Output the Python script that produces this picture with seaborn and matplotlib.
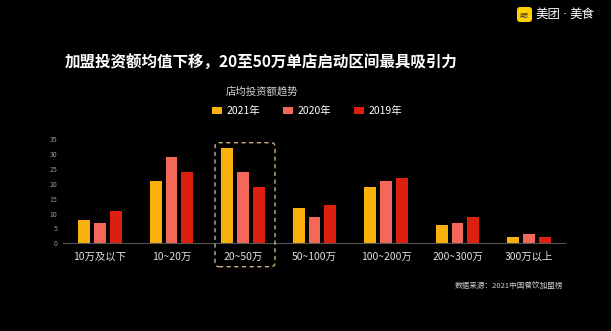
import matplotlib
matplotlib.use("Agg")
import matplotlib.pyplot as plt
import seaborn as sns
import pandas as pd
from matplotlib.patches import FancyBboxPatch, Patch
from matplotlib.transforms import IdentityTransform

categories = ['10万及以下', '10~20万', '20~50万', '50~100万', '100~200万', '200~300万', '300万以上']
years = ['2021年', '2020年', '2019年']
v2021 = [8, 21, 32, 12, 19, 6, 2]
v2020 = [7, 29, 24, 9, 21, 7, 3]
v2019 = [11, 24, 19, 13, 22, 9, 2]
colors = ['#FBB10B', '#F4685A', '#DC1F0E']
yticks = [0, 5, 10, 15, 20, 25, 30, 35]

df = pd.DataFrame({
    'cat': categories * 3,
    'year': [years[0]] * 7 + [years[1]] * 7 + [years[2]] * 7,
    'val': v2021 + v2020 + v2019,
})

sns.set_theme(style='dark')
plt.rcParams['font.family'] = ['Noto Sans CJK SC', 'DejaVu Sans']

W, H = 611, 331
fig = plt.figure(figsize=(W / 100, H / 100), dpi=100, facecolor='black')
ax = fig.add_axes([63 / W, (H - 243.3) / H, (565 - 63) / W, (243.3 - 139.3) / H])
ax.set_facecolor('black')

sns.barplot(data=df, x='cat', y='val', hue='year', order=categories, hue_order=years,
            palette=colors, width=0.66, gap=0.24, ax=ax, legend=False,
            saturation=1, linewidth=0)

ax.set_xlim(-0.517, 6.503)
ax.set_ylim(0, 35)
ax.set_yticks(yticks)
ax.set_yticklabels([str(t) for t in yticks], color='#9a9a9a', fontsize=5)
ax.tick_params(axis='y', length=0, pad=4)
ax.tick_params(axis='x', length=0, pad=6, labelcolor='#e0e0e0', labelsize=7.5)
ax.set_xlabel('')
ax.set_ylabel('')
ax.grid(False)
for s in ['top', 'right', 'left']:
    ax.spines[s].set_visible(False)
ax.spines['bottom'].set_color('#555555')
ax.spines['bottom'].set_linewidth(0.8)

# dashed highlight box (pixel coords)
box = FancyBboxPatch((215, H - 266.7), 60, 124, boxstyle='round,pad=0,rounding_size=4',
                     transform=IdentityTransform(), fill=False, edgecolor='#cfae85',
                     linestyle=(0, (3, 2.5)), linewidth=1.0)
fig.patches.append(box)

# title texts
fig.text(261 / W, 1 - 62 / H, '加盟投资额均值下移，20至50万单店启动区间最具吸引力',
         ha='center', va='center', color='white', fontsize=11.2, fontweight='bold')
fig.text(262 / W, 1 - 91 / H, '店均投资额趋势', ha='center', va='center',
         color='#d0d0d0', fontsize=7.5)

handles = [Patch(facecolor=c, edgecolor='none') for c in colors]
fig.legend(handles, years, loc='center', bbox_to_anchor=(307 / W, 1 - 111 / H), ncol=3,
           frameon=False, fontsize=7.5, labelcolor='white', handlelength=1.0,
           handleheight=0.55, handletextpad=0.4, columnspacing=2.2)

fig.text(563 / W, 1 - 287 / H, '数据来源：2021中国餐饮加盟榜', ha='right', va='center',
         color='#cfcfcf', fontsize=5.5)

# logo
logo = FancyBboxPatch((517, H - 22), 15, 15, boxstyle='round,pad=0,rounding_size=3',
                      transform=IdentityTransform(), facecolor='#FFD100', edgecolor='none')
fig.patches.append(logo)
fig.text(524.5 / W, 1 - 14.5 / H, '美团', ha='center', va='center', color='#333333', fontsize=3.2)
fig.text(535 / W, 1 - 14.5 / H, '美团', ha='left', va='center', color='white', fontsize=9)
fig.text(565 / W, 1 - 14.5 / H, '·', ha='center', va='center', color='white', fontsize=9,
         family=['DejaVu Sans'])
fig.text(569 / W, 1 - 14.5 / H, '美食', ha='left', va='center', color='white', fontsize=9)

fig.savefig('out.png', dpi=100, facecolor='black')
